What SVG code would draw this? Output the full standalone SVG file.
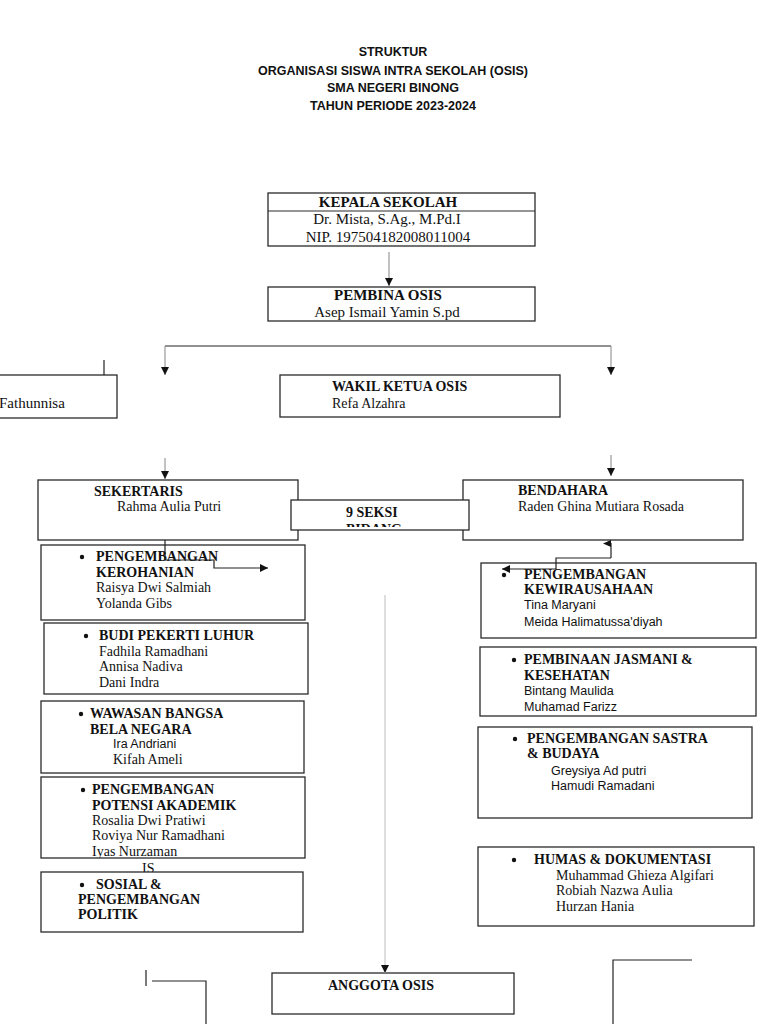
<svg xmlns="http://www.w3.org/2000/svg" width="768" height="1024" viewBox="0 0 768 1024">
<defs>
<style>
.box{fill:#fff;stroke:#2a2a2a;stroke-width:1.3}
.t{font-family:"Liberation Serif","Times New Roman",serif;font-size:14px;fill:#111}
.tb{font-family:"Liberation Serif","Times New Roman",serif;font-size:14px;font-weight:bold;fill:#111}
.big{font-size:15px}
.s{font-family:"Liberation Sans",Arial,sans-serif;font-size:12.5px;fill:#111}
.title{font-family:"Liberation Sans",Arial,sans-serif;font-size:12.5px;font-weight:bold;fill:#111;text-anchor:middle}
.c{fill:none;stroke:#222;stroke-width:1.2}
.cg{fill:none;stroke:#999;stroke-width:1.2}
.cl{fill:none;stroke:#c8c8c8;stroke-width:1.2}
.dot{fill:#111}
</style>
<marker id="ah" markerUnits="userSpaceOnUse" markerWidth="8" markerHeight="8" refX="8" refY="4" orient="auto">
<path d="M0,0 L8,4 L0,8 z" fill="#111"/>
</marker>
<clipPath id="clipSeksi"><rect x="291" y="500" width="179" height="27"/></clipPath>
<clipPath id="clipPotensi"><rect x="41" y="777" width="264" height="81"/></clipPath>
</defs>
<rect width="768" height="1024" fill="#fff"/>

<g id="title">
<text class="title" x="393" y="56">STRUKTUR</text>
<text class="title" x="393" y="75">ORGANISASI SISWA INTRA SEKOLAH (OSIS)</text>
<text class="title" x="393" y="92">SMA NEGERI BINONG</text>
<text class="title" x="393" y="110">TAHUN PERIODE 2023-2024</text>
</g>

<g id="kepala-sekolah">
<rect class="box" x="268" y="193" width="267" height="53"/>
<line x1="268" y1="211" x2="535" y2="211" stroke="#2a2a2a" stroke-width="1.1"/>
<text class="tb big" x="388" y="207" text-anchor="middle">KEPALA SEKOLAH</text>
<text class="t big" x="387" y="224" text-anchor="middle">Dr. Mista, S.Ag., M.Pd.I</text>
<text class="t big" x="388" y="242" text-anchor="middle">NIP. 197504182008011004</text>
</g>

<g id="pembina-osis">
<rect class="box" x="268" y="287" width="267" height="34"/>
<text class="tb big" x="388" y="300" text-anchor="middle">PEMBINA OSIS</text>
<text class="t big" x="387" y="317" text-anchor="middle">Asep Ismail Yamin S.pd</text>
</g>

<g id="ketua-osis">
<rect class="box" x="-2" y="375" width="119" height="43"/>
<text class="t big" x="-1" y="408">Fathunnisa</text>
</g>

<g id="wakil-ketua-osis">
<rect class="box" x="280" y="375" width="280" height="42"/>
<text class="tb" x="332" y="391">WAKIL KETUA OSIS</text>
<text class="t" x="332" y="408">Refa Alzahra</text>
</g>

<g id="sekertaris">
<rect class="box" x="38" y="480" width="260" height="60"/>
<text class="tb" x="94" y="496">SEKERTARIS</text>
<text class="t" x="117" y="511">Rahma Aulia Putri</text>
</g>

<g id="bendahara">
<rect class="box" x="463" y="480" width="280" height="60"/>
<text class="tb" x="518" y="495">BENDAHARA</text>
<text class="t" x="518" y="511">Raden Ghina Mutiara Rosada</text>
</g>

<g id="seksi-bidang">
<rect class="box" x="291" y="500" width="178" height="30"/>
<g clip-path="url(#clipSeksi)">
<text class="tb" x="346" y="517">9 SEKSI</text>
<text class="tb" x="346" y="534">BIDANG</text>
</g>
</g>

<g id="kerohanian">
<rect class="box" x="41" y="545" width="264" height="75"/>
<circle class="dot" cx="82" cy="557" r="2.2"/>
<text class="tb" x="96" y="561">PENGEMBANGAN</text>
<text class="tb" x="96" y="577">KEROHANIAN</text>
<text class="t" x="96" y="592">Raisya Dwi Salmiah</text>
<text class="t" x="96" y="608">Yolanda Gibs</text>
</g>

<g id="budi-pekerti">
<rect class="box" x="44" y="623" width="264" height="71"/>
<circle class="dot" cx="86" cy="636" r="2.2"/>
<text class="tb" x="99" y="640">BUDI PEKERTI LUHUR</text>
<text class="t" x="99" y="656">Fadhila Ramadhani</text>
<text class="t" x="99" y="671">Annisa Nadiva</text>
<text class="t" x="99" y="687">Dani Indra</text>
</g>

<g id="wawasan-bangsa">
<rect class="box" x="41" y="701" width="263" height="72"/>
<circle class="dot" cx="81" cy="714" r="2.2"/>
<text class="tb" x="90" y="718">WAWASAN BANGSA</text>
<text class="tb" x="90" y="734">BELA NEGARA</text>
<text class="s" x="113" y="748">Ira Andriani</text>
<text class="t" x="113" y="764">Kifah Ameli</text>
</g>

<g id="potensi-akademik">
<text class="t" x="142" y="873" font-size="13">IS</text>
<rect class="box" x="41" y="777" width="264" height="81"/>
<g clip-path="url(#clipPotensi)">
<circle class="dot" cx="83" cy="790" r="2.2"/>
<text class="tb" x="92" y="794">PENGEMBANGAN</text>
<text class="tb" x="92" y="810">POTENSI AKADEMIK</text>
<text class="t" x="92" y="825">Rosalia Dwi Pratiwi</text>
<text class="t" x="92" y="840">Roviya Nur Ramadhani</text>
<text class="t" x="92" y="856">Iyas Nurzaman</text>
</g>
</g>

<g id="sosial-politik">
<rect class="box" x="41" y="872" width="262" height="60"/>
<circle class="dot" cx="82" cy="885" r="2.2"/>
<text class="tb" x="96" y="889">SOSIAL &amp;</text>
<text class="tb" x="78" y="904">PENGEMBANGAN</text>
<text class="tb" x="78" y="919">POLITIK</text>
</g>

<g id="kewirausahaan">
<rect class="box" x="481" y="563" width="275" height="75"/>
<circle class="dot" cx="504" cy="575" r="2.2"/>
<text class="tb" x="524" y="579">PENGEMBANGAN</text>
<text class="tb" x="524" y="594">KEWIRAUSAHAAN</text>
<text class="s" x="524" y="609">Tina Maryani</text>
<text class="s" x="524" y="626">Meida Halimatussa'diyah</text>
</g>

<g id="jasmani-kesehatan">
<rect class="box" x="480" y="647" width="276" height="69"/>
<circle class="dot" cx="514" cy="660" r="2.2"/>
<text class="tb" x="524" y="664">PEMBINAAN JASMANI &amp;</text>
<text class="tb" x="524" y="680">KESEHATAN</text>
<text class="s" x="524" y="695">Bintang Maulida</text>
<text class="s" x="524" y="711">Muhamad Farizz</text>
</g>

<g id="sastra-budaya">
<rect class="box" x="478" y="727" width="274" height="91"/>
<circle class="dot" cx="515" cy="739" r="2.2"/>
<text class="tb" x="527" y="743">PENGEMBANGAN SASTRA</text>
<text class="tb" x="527" y="758">&amp; BUDAYA</text>
<text class="s" x="551" y="775">Greysiya Ad putri</text>
<text class="s" x="551" y="790">Hamudi Ramadani</text>
</g>

<g id="humas-dokumentasi">
<rect class="box" x="478" y="847" width="276" height="79"/>
<circle class="dot" cx="514" cy="860" r="2.2"/>
<text class="tb" x="534" y="864">HUMAS &amp; DOKUMENTASI</text>
<text class="t" x="556" y="880">Muhammad Ghieza Algifari</text>
<text class="t" x="556" y="895">Robiah Nazwa Aulia</text>
<text class="t" x="556" y="911">Hurzan Hania</text>
</g>

<g id="anggota-osis">
<rect class="box" x="272" y="973" width="242" height="41"/>
<text class="tb" x="328" y="990">ANGGOTA OSIS</text>
</g>

<g id="connectors">
<line class="cg" x1="389" y1="252" x2="389" y2="286" marker-end="url(#ah)"/>
<polyline class="c" points="165,346 611,346" stroke="#444"/>
<line class="cg" x1="165" y1="346" x2="165" y2="375" marker-end="url(#ah)"/>
<line class="cg" x1="611" y1="346" x2="611" y2="375" marker-end="url(#ah)"/>
<line class="c" x1="104" y1="360" x2="104" y2="375"/>
<line class="cg" x1="165" y1="458" x2="165" y2="479" marker-end="url(#ah)"/>
<line class="cg" x1="611" y1="455" x2="611" y2="476" marker-end="url(#ah)"/>
<polyline class="c" points="165,540 165,560 214,560 214,568 268,568" marker-end="url(#ah)"/>
<polyline class="c" points="611,558 611,543"/>
<path d="M611,540 L603,543.5 L611,547 z" fill="#111"/>
<polyline class="c" points="611,558 556,558 556,569 502,569" marker-end="url(#ah)"/>
<line class="cl" x1="385" y1="595" x2="385" y2="973" marker-end="url(#ah)"/>
<line class="c" x1="146" y1="970" x2="146" y2="986"/>
<polyline class="c" points="152,981 206,981 206,1024"/>
<polyline class="c" points="613,1024 613,960 692,960"/>
</g>
</svg>
